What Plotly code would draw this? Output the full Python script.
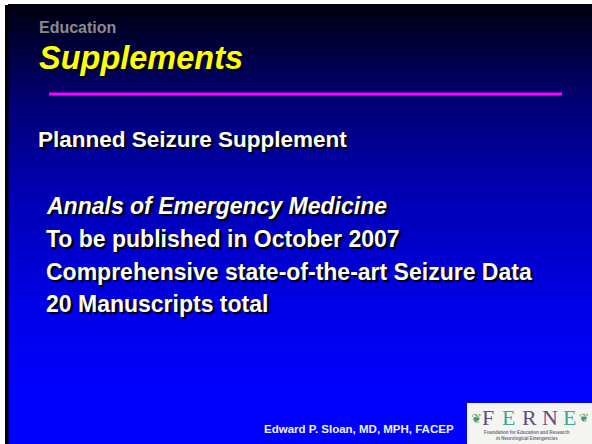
import plotly.graph_objects as go

W, H = 592, 444

# Slide texts
header_small = "Education"
title = "Supplements"
subtitle = "Planned Seizure Supplement"
journal = "Annals of Emergency Medicine"
bullets = ["To be published in October 2007",
           "Comprehensive state-of-the-art Seizure Data",
           "20 Manuscripts total"]
author = "Edward P. Sloan, MD, MPH, FACEP"
logo_letters = ["F", "E", "R", "N", "E"]
logo_colors = ["#5e4f86", "#3aa89a", "#5e4f86", "#5e4f86", "#3aa89a"]
logo_sub = ["Foundation for Education and Research", "in Neurological Emergencies"]

# background gradient (rows)
ys = list(range(5, H + 1, 2))
z = [[y] for y in ys]
top, bot = 5, H
def pos(y):
    return (y - top) / (bot - top)
cscale = [[0, "#000012"], [pos(110), "#00007c"], [pos(190), "#0000b0"],
          [pos(310), "#0000e8"], [pos(392), "#0000ff"], [1, "#0000ff"]]

fig = go.Figure()
fig.add_trace(go.Heatmap(z=z, x0=300, dx=584, y=ys, colorscale=cscale,
                         showscale=False, hoverinfo="skip", zsmooth="best"))

shapes = []
# black left strip
shapes.append(dict(type="rect", x0=5, x1=8.5, y0=5, y1=H, fillcolor="black", line_width=0, layer="above"))
# magenta rule
shapes.append(dict(type="line", x0=49, x1=562, y0=94, y1=94, line=dict(color="#ff00ff", width=3)))
# logo box
shapes.append(dict(type="rect", x0=467, x1=W, y0=403, y1=H, fillcolor="#f4f4f0", line_width=0))

ann = []
def txt(s, x, y, size, color, bold=True, italic=False, family="Liberation Sans, Arial, sans-serif", shadow="1px 1px 1px #000000", anchor="left"):
    t = s
    if bold:
        t = "<b>" + t + "</b>"
    if italic:
        t = "<i>" + t + "</i>"
    ann.append(dict(text=t, x=x, y=y, xref="x", yref="y", showarrow=False,
                    xanchor=anchor, yanchor="middle", borderpad=0,
                    font=dict(size=size, color=color, family=family, shadow=shadow)))

txt(header_small, 38, 27, 16, "#8a8a8a", shadow="none")
txt(title, 38, 58, 32.5, "#ffff00", italic=True, shadow="2px 2px 1px #000000")
txt(subtitle, 37, 139, 22.5, "#ffffff", shadow="2px 2px 1px #000000")
txt(journal, 45, 206, 23, "#ffffff", italic=True, shadow="2px 2px 1px #000000")
for i, b in enumerate(bullets):
    txt(b, 45, 239 + 32.5 * i, 23, "#ffffff", shadow="2px 2px 1px #000000")
txt(author, 263, 429, 11.5, "#f0f0ff", shadow="none")

# logo
lx = [488, 508, 529, 550, 569]
for L, c, x in zip(logo_letters, logo_colors, lx):
    txt(L, x, 417, 22, c, bold=False, family="Liberation Serif, DejaVu Serif, serif", shadow="none", anchor="center")
txt("❦", 476, 418, 13, "#4f9a6a", bold=False, shadow="none", anchor="center")
txt("❦", 584, 418, 12, "#4f9a6a", bold=False, shadow="none", anchor="center")
txt(logo_sub[0], 527, 432, 4.5, "#6a6a8a", bold=True, shadow="none", anchor="center")
txt(logo_sub[1], 527, 438, 4.5, "#6a6a8a", bold=True, shadow="none", anchor="center")

fig.update_layout(width=W, height=H, margin=dict(l=0, r=0, t=0, b=0),
                  paper_bgcolor="white", plot_bgcolor="white",
                  xaxis=dict(range=[0, W], visible=False, fixedrange=True),
                  yaxis=dict(range=[H, 0], visible=False, fixedrange=True),
                  shapes=shapes, annotations=ann, showlegend=False)
fig.write_html("out.html", post_script="document.body.style.margin='0';document.body.style.overflow='hidden';",
               config={"displayModeBar": False})
